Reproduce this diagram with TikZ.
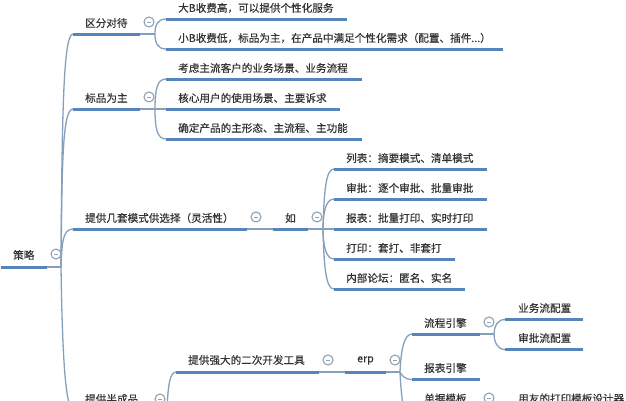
\documentclass[tikz,border=0pt]{standalone}
\usepackage{fontspec}
\newfontfamily\cjk[FakeBold=0.35]{Noto Sans CJK SC}
\definecolor{barblue}{HTML}{5585BB}
\definecolor{linkblue}{HTML}{86A0BC}
\definecolor{foldgray}{HTML}{8FA3B5}
\tikzset{
  lbl/.style={font=\cjk\fontsize{10.6}{12}\selectfont,text=black!80,anchor=west,inner sep=0pt},
  bar/.style={draw=barblue,line width=3pt},
  link/.style={draw=linkblue,line width=1.3pt},
  fold/.style={circle,draw=foldgray,line width=1.1pt,minimum size=10pt,inner sep=0pt,fill=white,
    path picture={\draw[foldgray,line width=.6pt] ([xshift=-2pt]path picture bounding box.center) -- ([xshift=2pt]path picture bounding box.center);}}
}
\begin{document}
\begin{tikzpicture}[x=1pt,y=-1pt]
\useasboundingbox (0,0) rectangle (626,400);
\clip (0,0) rectangle (626,400);
\fill[white] (0,0) rectangle (626,400);

% ---- hubs
\coordinate (h0) at (61,267);
\coordinate (h1) at (155,34);
\coordinate (h2) at (155,109);
\coordinate (h3) at (323,229);
\coordinate (h4) at (167,409);
\coordinate (h5) at (400,372);
\coordinate (h6) at (494,334);

% ---- bars
\foreach \n/\xa/\xb/\yy in {
 root/1/47/267,
 a/73/140/34, b/73/140/109, c/73/247/229, ru/273/308/229, d/73/140/409,
 a1/166/347/19, a2/166/503/49,
 b1/166/362/79, b2/166/340/109, b3/166/362/139,
 c1/334/487/169, c2/334/487/199, c3/334/487/229, c4/334/455/259, c5/334/465/289,
 d1/176/319/372, erp/345/386/372,
 e1/412/480/334, e2/412/480/379.5, e3/412/480/425,
 f1/505/583/319.5, f2/505/583/349.5, g1/505/625/409}
 {\coordinate (\n a) at (\xa,\yy); \coordinate (\n b) at (\xb,\yy); \draw[bar] (\n a) -- (\n b);}

% ---- thin stubs
\draw[link] (rootb) -- (h0);
\draw[link] (ab) -- (h1);
\draw[link] (bb) -- (h2);
\draw[link] (cb) -- (rua);
\draw[link] (rub) -- (h3);
\draw[link] (d1b) -- (erpa);
\draw[link] (erpb) -- (h5);
\draw[link] (e1b) -- (h6);
\draw[link] (db) -- (h4);

% ---- curves
\draw[link] (h0) .. controls (62,120) and (63,34) .. (aa);
\draw[link] (h0) .. controls (62,170) and (62,109) .. (ba);
\draw[link] (h0) .. controls (62,245) and (62,229) .. (ca);
\draw[link] (h0) .. controls (62,330) and (64,409) .. (da);

\draw[link] (h1) .. controls (155,26) and (157,19) .. (a1a);
\draw[link] (h1) .. controls (155,42) and (157,49) .. (a2a);
\draw[link] (h2) .. controls (155,90) and (157,79) .. (b1a);
\draw[link] (h2) -- (b2a);
\draw[link] (h2) .. controls (155,128) and (157,139) .. (b3a);

\draw[link] (h3) .. controls (324,190) and (326,169) .. (c1a);
\draw[link] (h3) .. controls (323,212) and (326,199) .. (c2a);
\draw[link] (h3) -- (c3a);
\draw[link] (h3) .. controls (323,246) and (326,259) .. (c4a);
\draw[link] (h3) .. controls (324,268) and (326,289) .. (c5a);

\draw[link] (h4) .. controls (168,385) and (170,372) .. (d1a);
\draw[link] (h5) .. controls (401,350) and (404,334) .. (e1a);
\draw[link] (h5) .. controls (401,374) and (404,379.5) .. (e2a);
\draw[link] (h5) .. controls (401,395) and (404,425) .. (e3a);
\draw[link] (h6) .. controls (494,327) and (497,319.5) .. (f1a);
\draw[link] (h6) .. controls (494,341) and (497,349.5) .. (f2a);

% ---- labels
\node[lbl] (troot) at (13,255) {策略};
\node[lbl] (ta) at (85,23) {区分对待};
\node[lbl] (tb) at (85,98) {标品为主};
\node[lbl] (tc) at (85,218) {提供几套模式供选择（灵活性）};
\node[lbl] (tru) at (285,218) {如};
\node[lbl] (td) at (85,399) {提供半成品};
\node[lbl] (ta1) at (178,8) {大B收费高，可以提供个性化服务};
\node[lbl] (ta2) at (178,38) {小B收费低，标品为主，在产品中满足个性化需求（配置、插件...）};
\node[lbl] (tb1) at (178,68) {考虑主流客户的业务场景、业务流程};
\node[lbl] (tb2) at (178,98) {核心用户的使用场景、主要诉求};
\node[lbl] (tb3) at (178,128) {确定产品的主形态、主流程、主功能};
\node[lbl] (tc1) at (346,158) {列表：摘要模式、清单模式};
\node[lbl] (tc2) at (346,188) {审批：逐个审批、批量审批};
\node[lbl] (tc3) at (346,218) {报表：批量打印、实时打印};
\node[lbl] (tc4) at (346,248) {打印：套打、非套打};
\node[lbl] (tc5) at (346,278) {内部论坛：匿名、实名};
\node[lbl] (td1) at (188,360) {提供强大的二次开发工具};
\node[lbl] (terp) at (357,360.5) {erp};
\node[lbl] (te1) at (424,323) {流程引擎};
\node[lbl] (te2) at (424,368) {报表引擎};
\node[lbl] (te3) at (424,398.5) {单据模板};
\node[lbl] (tf1) at (518,308) {业务流配置};
\node[lbl] (tf2) at (518,338) {审批流配置};
\node[lbl] (tg1) at (518,398.5) {用友的打印模板设计器};

% ---- fold markers
\node[fold] (m0) at (56,254) {};
\node[fold] (m1) at (149,22) {};
\node[fold] (m2) at (149,97) {};
\node[fold] (m3) at (256,217) {};
\node[fold] (m4) at (317,217) {};
\node[fold] (m5) at (160,399) {};
\node[fold] (m6) at (328,360) {};
\node[fold] (m7) at (395,360) {};
\node[fold] (m8) at (489,322) {};
\node[fold] (m9) at (489,398) {};
\end{tikzpicture}
\end{document}
